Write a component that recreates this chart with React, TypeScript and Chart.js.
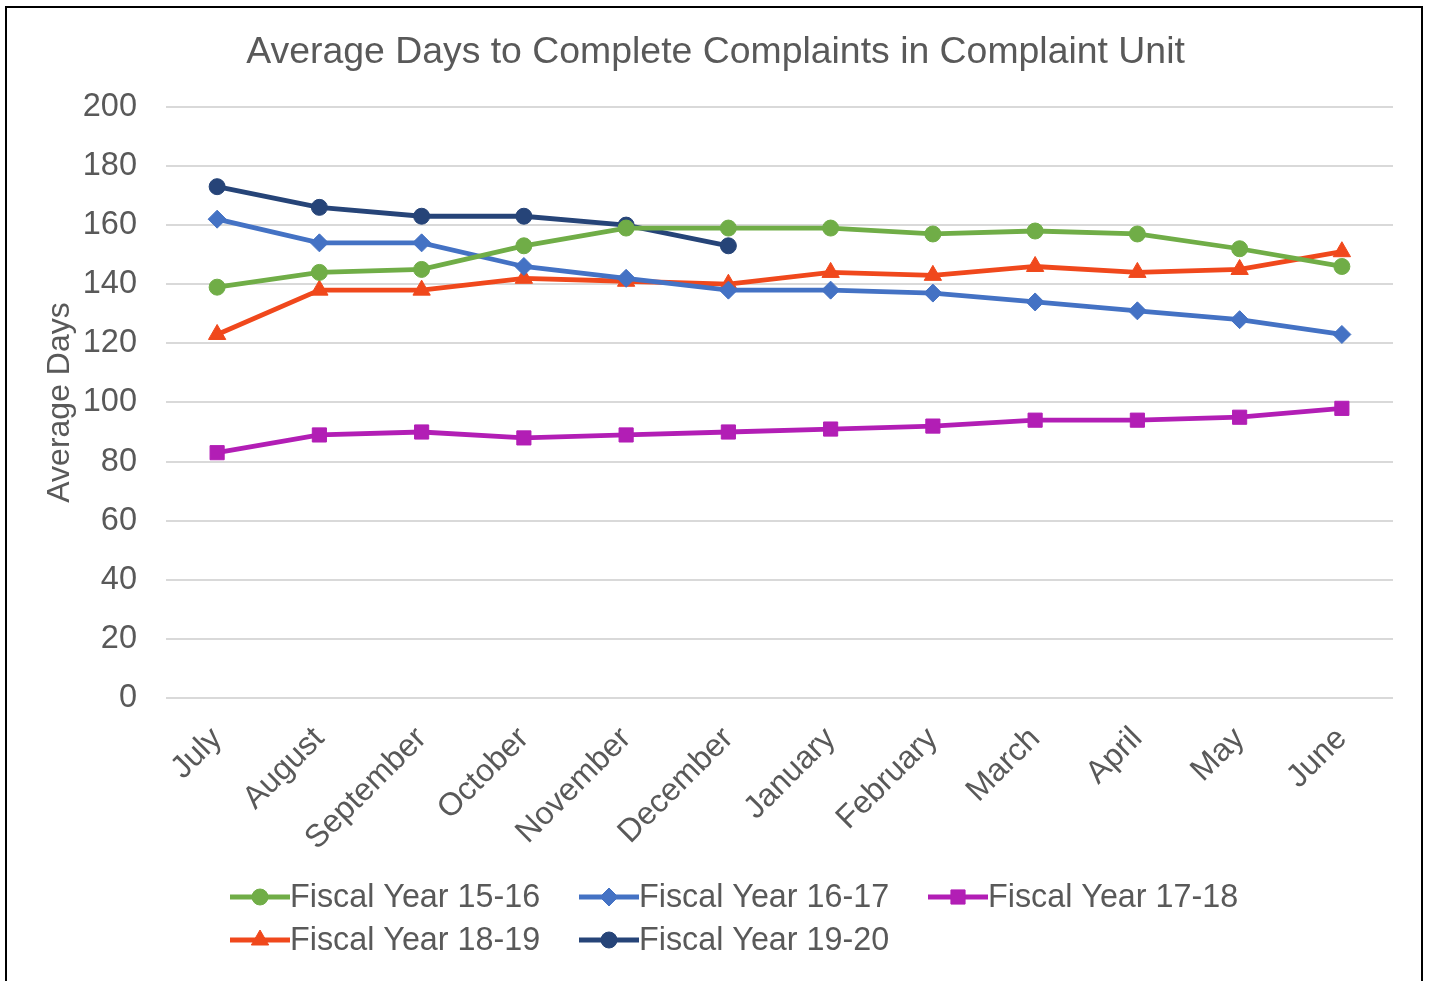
import React, { useEffect, useRef } from 'react';
import { Chart, registerables } from 'chart.js';
import { drawPoint } from 'chart.js/helpers';

Chart.register(...registerables);

const months = ['July', 'August', 'September', 'October', 'November', 'December', 'January', 'February', 'March', 'April', 'May', 'June'];
const fy1516 = [139, 144, 145, 153, 159, 159, 159, 157, 158, 157, 152, 146];
const fy1617 = [162, 154, 154, 146, 142, 138, 138, 137, 134, 131, 128, 123];
const fy1718 = [83, 89, 90, 88, 89, 90, 91, 92, 94, 94, 95, 98];
const fy1819 = [123, 138, 138, 142, 141, 140, 144, 143, 146, 144, 145, 151];
const fy1920 = [173, 166, 163, 163, 160, 153];
const seriesLabels = ['Fiscal Year 15-16', 'Fiscal Year 16-17', 'Fiscal Year 17-18', 'Fiscal Year 18-19', 'Fiscal Year 19-20'];
const yMin = 0;
const yMax = 200;
const yStep = 20;

const FONT = '"Liberation Sans", Arial, sans-serif';
const TEXT = '#595959';

const legendPlugin = {
  id: 'excelLegend',
  afterDraw(chart: any) {
    const ctx = chart.ctx;
    const startX = 230;
    const colW = 349;
    const rowY = [897, 940];
    const lineLen = 60;
    ctx.save();
    ctx.font = `32.3px ${FONT}`;
    ctx.textBaseline = 'middle';
    ctx.textAlign = 'left';
    chart.data.datasets.forEach((ds: any, i: number) => {
      const x = startX + (i % 3) * colW;
      const y = rowY[Math.floor(i / 3)];
      ctx.strokeStyle = ds.borderColor;
      ctx.lineWidth = ds.borderWidth;
      ctx.beginPath();
      ctx.moveTo(x, y);
      ctx.lineTo(x + lineLen, y);
      ctx.stroke();
      ctx.fillStyle = ds.pointBackgroundColor;
      ctx.strokeStyle = ds.pointBackgroundColor;
      ctx.lineWidth = 1;
      drawPoint(ctx, { pointStyle: ds.pointStyle, radius: ds.pointRadius, rotation: 0, borderWidth: 1 }, x + lineLen / 2, y);
      ctx.fillStyle = TEXT;
      ctx.fillText(ds.label, x + lineLen, y + 1);
    });
    ctx.restore();
  },
};

function makeDs(label: string, data: number[], color: string, style: string, r: number) {
  return {
    label,
    data,
    borderColor: color,
    backgroundColor: color,
    borderWidth: 4.8,
    pointStyle: style,
    pointRadius: r,
    pointHoverRadius: r,
    pointBackgroundColor: color,
    pointBorderColor: color,
    pointBorderWidth: 1,
    tension: 0,
    fill: false,
    yAxisID: 'y',
  };
}

export default function App() {
  const ref = useRef<HTMLCanvasElement | null>(null);

  useEffect(() => {
    if (!ref.current) return;
    const chart = new Chart(ref.current, {
      type: 'line',
      data: {
        labels: months,
        datasets: [
          makeDs(seriesLabels[0], fy1516, '#70AD47', 'circle', 8),
          makeDs(seriesLabels[1], fy1617, '#4472C4', 'rectRot', 9),
          makeDs(seriesLabels[2], fy1718, '#B21EB5', 'rect', 10),
          makeDs(seriesLabels[3], fy1819, '#F0481C', 'triangle', 10),
          makeDs(seriesLabels[4], fy1920, '#264478', 'circle', 8),
        ] as any,
      },
      options: {
        animation: false,
        responsive: false,
        devicePixelRatio: 1,
        layout: { padding: { left: 0, right: 0, top: 0, bottom: 133 } },
        plugins: {
          legend: { display: false },
          tooltip: { enabled: false },
          title: {
            display: true,
            text: 'Average Days to Complete Complaints in Complaint Unit',
            color: TEXT,
            font: { family: FONT, size: 37.4, weight: 'normal' },
            padding: { top: 30, bottom: 32 },
          },
        },
        scales: {
          x: {
            offset: true,
            grid: { display: false },
            border: { display: false },
            afterFit: (s: any) => { s.height = 150; },
            ticks: {
              color: TEXT,
              font: { family: FONT, size: 32 },
              minRotation: 45,
              maxRotation: 45,
              padding: 14,
              autoSkip: false,
            },
          },
          y: {
            min: yMin,
            max: yMax,
            afterFit: (s: any) => { s.width = 166; },
            grid: { color: '#D9D9D9', lineWidth: 2, drawTicks: false },
            border: { display: false },
            ticks: {
              stepSize: yStep,
              color: TEXT,
              font: { family: FONT, size: 32.5 },
              padding: 29,
            },
            title: {
              display: true,
              text: 'Average Days',
              color: TEXT,
              font: { family: FONT, size: 32 },
              padding: { top: 41, bottom: 0 },
            },
          },
          yRight: {
            position: 'right',
            min: yMin,
            max: yMax,
            display: true,
            afterFit: (s: any) => { s.width = 38; },
            grid: { display: false },
            border: { display: false },
            ticks: { display: false },
          },
        },
      },
      plugins: [legendPlugin],
    });
    return () => chart.destroy();
  }, []);

  return (
    <div style={{ position: 'fixed', left: 0, top: 0, width: 1431, height: 981, overflow: 'hidden', background: '#fff' }}>
      <canvas ref={ref} width={1431} height={981} style={{ position: 'absolute', left: 0, top: 0, width: 1431, height: 981 }} />
      <div style={{ position: 'absolute', left: 5, top: 6, width: 1418, height: 1100, border: '2px solid #000', boxSizing: 'border-box', pointerEvents: 'none' }} />
    </div>
  );
}
